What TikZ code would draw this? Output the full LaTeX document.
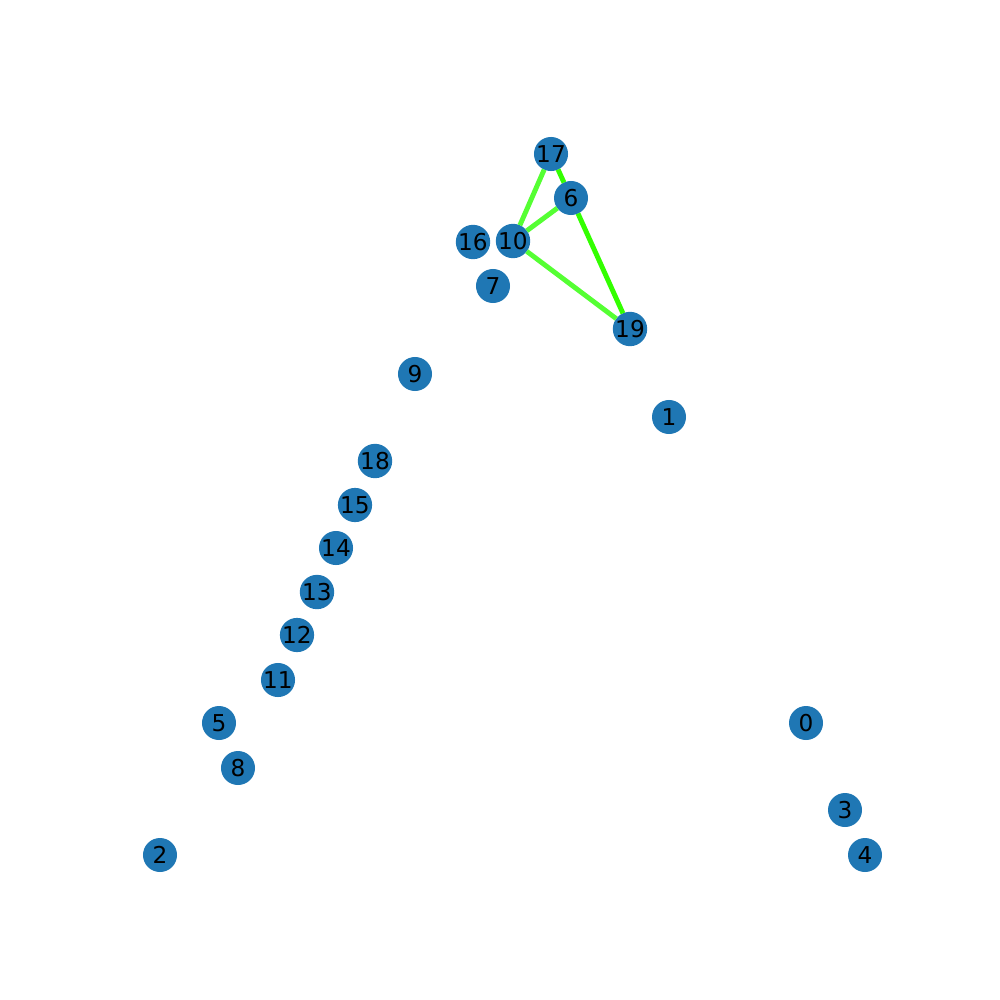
\documentclass[tikz,border=0pt]{standalone}
\usepackage{fontspec}
\setmainfont{DejaVu Sans}

\definecolor{nodeblue}{HTML}{1F77B4}
\definecolor{edgelime}{HTML}{33FF00}
\definecolor{edgelight}{HTML}{55FF33}

\tikzset{every picture/.style={line width=0.75pt}}
\tikzset{
  vert/.style={circle, fill=nodeblue, draw=none, minimum size=0.34cm, inner sep=0pt, outer sep=0pt,
    font=\fontsize{6.6}{7.5}\selectfont, text=black},
  link/.style={edgelight, line width=1.4pt},
  linkb/.style={edgelime, line width=1.4pt}
}

\begin{document}
\begin{tikzpicture}[x=0.01cm, y=-0.01cm]
\useasboundingbox (0,0) rectangle (1000,1000);

\node[vert] (v17) at (551,154) {17};
    \node[vert] (v6) at (571,198) {6};
    \node[vert] (v16) at (473,242) {16};
    \node[vert] (v10) at (513,241) {10};
    \node[vert] (v7) at (493,286) {7};
    \node[vert] (v19) at (630,329) {19};
    \node[vert] (v9) at (415,374) {9};
    \node[vert] (v1) at (669,417) {1};

\node[vert] (v18) at (375,461) {18};
    \node[vert] (v15) at (355,505) {15};
    \node[vert] (v14) at (336,548) {14};
    \node[vert] (v13) at (317,592) {13};
    \node[vert] (v12) at (297,635) {12};
    \node[vert] (v11) at (278,680) {11};
    \node[vert] (v5) at (219,723) {5};
    \node[vert] (v8) at (238,768) {8};
    \node[vert] (v2) at (160,855) {2};

\node[vert] (v0) at (806,723) {0};
    \node[vert] (v3) at (845,810) {3};
    \node[vert] (v4) at (865,855) {4};

\draw[link] (v17) -- (v10);
    \draw[linkb] (v17) -- (v6);
    \draw[link] (v6) -- (v10);
    \draw[link] (v10) -- (v19);
    \draw[linkb] (v6) -- (v19);

\end{tikzpicture}
\end{document}
